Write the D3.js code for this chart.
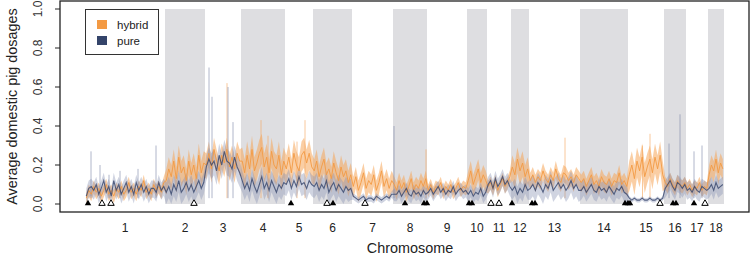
<!DOCTYPE html>
<html>
<head>
<meta charset="utf-8">
<script src="https://cdn.jsdelivr.net/npm/d3@7"></script>
<style>
  body { margin: 0; background: #fff; }
  svg { display: block; font-family: "Liberation Sans", Arial, sans-serif; }
</style>
</head>
<body>
<div id="chart"></div>
<script>
// chromosome names and lengths (Mb)
const chromosomes = ["1","2","3","4","5","6","7","8","9","10","11","12","13","14","15","16","17","18"];
const chromLength = [320,160,144,176,112,156,164,136,160,80,96,72,204,192,144,88,88,64];

// average domestic pig dosage per window, one list per chromosome
const hybridDosage = [
  [0.03,0.07,0.05,0.09,0.06,0.08,0.04,0.07,0.10,0.05,0.07,0.04,0.08,0.06,0.09,0.05,0.07,0.11,0.06,0.08,0.05,0.09,0.07,0.12,0.06,0.08,0.05,0.10,0.07,0.09,0.06,0.11],
  [0.12,0.18,0.14,0.22,0.13,0.24,0.16,0.19,0.12,0.22,0.15,0.20,0.13,0.25,0.16,0.21],
  [0.20,0.26,0.18,0.28,0.22,0.17,0.25,0.21,0.28,0.19,0.24,0.18,0.26,0.22],
  [0.22,0.16,0.25,0.18,0.28,0.17,0.21,0.26,0.29,0.19,0.24,0.16,0.27,0.20,0.18,0.25,0.15,0.22],
  [0.18,0.24,0.16,0.26,0.20,0.17,0.25,0.27,0.21,0.26,0.19],
  [0.17,0.22,0.14,0.19,0.23,0.15,0.18,0.13,0.21,0.16,0.12,0.19,0.14,0.17,0.11,0.15],
  [0.09,0.14,0.07,0.11,0.16,0.08,0.12,0.10,0.15,0.07,0.11,0.17,0.09,0.13,0.08,0.12],
  [0.10,0.07,0.12,0.08,0.11,0.06,0.09,0.13,0.07,0.10,0.08,0.12,0.09,0.13],
  [0.07,0.10,0.06,0.09,0.08,0.11,0.06,0.09,0.07,0.10,0.06,0.08,0.11,0.07,0.09,0.08],
  [0.12,0.17,0.10,0.14,0.18,0.11,0.15,0.12],
  [0.09,0.11,0.08,0.12,0.07,0.10,0.13,0.09,0.11,0.14],
  [0.19,0.15,0.23,0.17,0.21,0.14,0.18],
  [0.12,0.15,0.11,0.14,0.12,0.17,0.13,0.11,0.15,0.12,0.18,0.13,0.11,0.16,0.15,0.12,0.14,0.11,0.15,0.13],
  [0.11,0.13,0.09,0.12,0.15,0.10,0.12,0.09,0.14,0.11,0.10,0.13,0.09,0.12,0.11,0.16,0.10,0.12,0.09],
  [0.15,0.20,0.13,0.22,0.17,0.24,0.14,0.19,0.23,0.16,0.24,0.18,0.25,0.15],
  [0.11,0.09,0.13,0.10,0.08,0.12,0.10,0.09,0.11],
  [0.08,0.10,0.07,0.09,0.08,0.11,0.07,0.09,0.08],
  [0.15,0.20,0.17,0.23,0.16,0.21,0.18]
];
const pureDosage = [
  [0.04,0.08,0.09,0.07,0.10,0.05,0.08,0.12,0.06,0.09,0.04,0.12,0.07,0.10,0.05,0.08,0.11,0.06,0.09,0.05,0.11,0.07,0.10,0.06,0.09,0.05,0.08,0.08,0.06,0.11,0.07,0.09],
  [0.06,0.09,0.05,0.10,0.07,0.12,0.06,0.08,0.11,0.07,0.10,0.06,0.09,0.12,0.08,0.11],
  [0.19,0.23,0.20,0.22,0.17,0.25,0.20,0.27,0.22,0.21,0.18,0.24,0.19,0.16],
  [0.12,0.08,0.11,0.07,0.13,0.09,0.06,0.10,0.14,0.08,0.11,0.07,0.12,0.09,0.06,0.10,0.08,0.11],
  [0.10,0.13,0.08,0.12,0.09,0.14,0.10,0.11,0.08,0.12,0.10],
  [0.09,0.11,0.07,0.10,0.08,0.12,0.06,0.09,0.11,0.07,0.10,0.08,0.06,0.09,0.07,0.08],
  [0.04,0.03,0.02,0.03,0.04,0.02,0.03,0.03,0.02,0.04,0.03,0.02,0.03,0.04,0.03,0.05],
  [0.05,0.05,0.07,0.04,0.06,0.08,0.05,0.04,0.07,0.05,0.06,0.04,0.07,0.05],
  [0.06,0.08,0.05,0.07,0.09,0.06,0.08,0.05,0.07,0.06,0.09,0.05,0.07,0.08,0.06,0.07],
  [0.05,0.07,0.04,0.06,0.05,0.08,0.04,0.06],
  [0.10,0.12,0.08,0.13,0.09,0.11,0.14,0.10,0.12,0.09],
  [0.07,0.09,0.05,0.08,0.06,0.10,0.07],
  [0.08,0.10,0.07,0.11,0.09,0.06,0.10,0.08,0.12,0.07,0.09,0.11,0.08,0.10,0.07,0.09,0.12,0.08,0.10,0.07],
  [0.07,0.09,0.06,0.08,0.10,0.07,0.06,0.09,0.07,0.08,0.06,0.09,0.07,0.05,0.08,0.07,0.09,0.06,0.05],
  [0.03,0.02,0.03,0.02,0.02,0.03,0.02,0.02,0.03,0.02,0.02,0.03,0.02,0.03],
  [0.08,0.10,0.12,0.09,0.07,0.11,0.10,0.08,0.10],
  [0.07,0.08,0.06,0.09,0.07,0.06,0.09,0.08,0.07],
  [0.08,0.10,0.07,0.11,0.08,0.09,0.10]
];

// spread of the individual windows around the mean, per chromosome
const hybridSpread = [0.03,0.06,0.06,0.07,0.07,0.06,0.05,0.04,0.03,0.05,0.03,0.06,0.04,0.04,0.07,0.03,0.03,0.05];
const pureSpread = [0.04,0.05,0.06,0.05,0.05,0.05,0.015,0.03,0.03,0.03,0.04,0.04,0.05,0.04,0.01,0.04,0.04,0.04];

// isolated high windows: [position Mb, dosage]
const hybridSpikes = [[568,0.62],[704,0.43],[732,0.35],[880,0.43],[848,0.32],[1364,0.28],[1920,0.34],[2260,0.36],[2230,0.30]];
const pureSpikes = [[24,0.27],[60,0.20],[96,0.15],[140,0.17],[212,0.18],[284,0.30],[496,0.70],[508,0.55],[572,0.60],[592,0.42],[1236,0.40],[2336,0.31],[2380,0.46],[2436,0.27],[2468,0.30]];

// marker positions along the genome (Mb from start)
const filledMarks = [12,824,992,1280,1356,1368,1536,1548,1708,1788,1800,2160,2172,2180,2352,2364,2436];
const openMarks = [68,104,436,968,1120,1624,1656,2300,2480];

const yTicks = [0, 0.2, 0.4, 0.6, 0.8, 1.0];
const hybridColor = "#f39a44", pureColor = "#34446a";

const width = 750, height = 256;
const box = { left: 60, right: 749, top: 1, bottom: 212 };

// cumulative start of each chromosome
var starts = [];
var acc = 0;
chromLength.forEach(function (l) { starts.push(acc); acc += l; });
var total = acc;

var x = d3.scaleLinear().domain([0, total]).range([85, 724]);
var y = d3.scaleLinear().domain([0, 1]).range([204, 9]);

function toPoints(series, spread) {
  var pts = [];
  series.forEach(function (vals, c) {
    var step = chromLength[c] / vals.length;
    vals.forEach(function (v, i) {
      pts.push({ pos: starts[c] + (i + 0.5) * step, v: v, s: spread[c] });
    });
  });
  return pts;
}

var hybridPts = toPoints(hybridDosage, hybridSpread);
var purePts = toPoints(pureDosage, pureSpread);

var svg = d3.select("#chart").append("svg")
  .attr("width", width)
  .attr("height", height);

// grey bands for even chromosomes
svg.append("g").selectAll("rect")
  .data(chromosomes.map(function (d, i) { return i; }).filter(function (i) { return i % 2 == 1; }))
  .join("rect")
  .attr("x", function (i) { return x(starts[i]); })
  .attr("width", function (i) { return x(starts[i] + chromLength[i]) - x(starts[i]); })
  .attr("y", y(1))
  .attr("height", y(0) - y(1))
  .attr("fill", "#dedee1");

var band = d3.area()
  .x(function (d) { return x(d.pos); })
  .y0(function (d) { return y(Math.max(0, d.v - d.s * 1.2)); })
  .y1(function (d) { return y(d.v + d.s); });

var line = d3.line()
  .x(function (d) { return x(d.pos); })
  .y(function (d) { return y(d.v); });

function drawSpikes(spikes, color, opacity) {
  svg.append("g").selectAll("line")
    .data(spikes)
    .join("line")
    .attr("x1", function (d) { return x(d[0]); })
    .attr("x2", function (d) { return x(d[0]); })
    .attr("y1", y(0.03))
    .attr("y2", function (d) { return y(d[1]); })
    .attr("stroke", color)
    .attr("stroke-opacity", opacity)
    .attr("stroke-width", 1);
}

// faint spread first, then the mean lines
svg.append("path")
  .attr("d", band(hybridPts))
  .attr("fill", "#f5a65a")
  .attr("fill-opacity", 0.55);
drawSpikes(hybridSpikes, "#f5a55a", 0.6);

svg.append("path")
  .attr("d", band(purePts))
  .attr("fill", "#8a93b4")
  .attr("fill-opacity", 0.4);
drawSpikes(pureSpikes, "#7c86a8", 0.6);

svg.append("path")
  .attr("d", line(hybridPts))
  .attr("fill", "none")
  .attr("stroke", hybridColor)
  .attr("stroke-opacity", 0.9)
  .attr("stroke-width", 1);

svg.append("path")
  .attr("d", line(purePts))
  .attr("fill", "none")
  .attr("stroke", pureColor)
  .attr("stroke-opacity", 0.8)
  .attr("stroke-width", 1.1);

// triangles on the baseline
var tri = d3.symbol().type(d3.symbolTriangle).size(18);
svg.append("g").selectAll("path")
  .data(openMarks)
  .join("path")
  .attr("d", tri)
  .attr("transform", function (d) { return "translate(" + x(d) + "," + (y(0) - 0.5) + ")"; })
  .attr("fill", "#fff")
  .attr("stroke", "#000")
  .attr("stroke-width", 1);
svg.append("g").selectAll("path")
  .data(filledMarks)
  .join("path")
  .attr("d", tri)
  .attr("transform", function (d) { return "translate(" + x(d) + "," + (y(0) - 0.5) + ")"; })
  .attr("fill", "#000");

// frame
svg.append("rect")
  .attr("x", box.left)
  .attr("y", box.top)
  .attr("width", box.right - box.left)
  .attr("height", box.bottom - box.top)
  .attr("fill", "none")
  .attr("stroke", "#222")
  .attr("stroke-width", 1.3);

// y axis
var yAxis = svg.append("g");
yAxis.selectAll("line")
  .data(yTicks)
  .join("line")
  .attr("x1", box.left - 5)
  .attr("x2", box.left)
  .attr("y1", function (d) { return y(d); })
  .attr("y2", function (d) { return y(d); })
  .attr("stroke", "#222");
yAxis.selectAll("text")
  .data(yTicks)
  .join("text")
  .attr("transform", function (d) { return "translate(42," + y(d) + ") rotate(-90)"; })
  .attr("text-anchor", "middle")
  .attr("font-size", 12)
  .attr("fill", "#333")
  .text(function (d) { return d.toFixed(1); });

svg.append("text")
  .attr("transform", "translate(17," + ((box.top + box.bottom) / 2) + ") rotate(-90)")
  .attr("text-anchor", "middle")
  .attr("font-size", 14.4)
  .attr("fill", "#222")
  .text("Average domestic pig dosages");

// chromosome labels
svg.append("g").selectAll("text")
  .data(chromosomes)
  .join("text")
  .attr("x", function (d, i) { return x(starts[i] + chromLength[i] / 2); })
  .attr("y", 232)
  .attr("text-anchor", "middle")
  .attr("font-size", 12)
  .attr("fill", "#222")
  .text(function (d) { return d; });

svg.append("text")
  .attr("x", 410)
  .attr("y", 253)
  .attr("text-anchor", "middle")
  .attr("font-size", 14.4)
  .attr("fill", "#222")
  .text("Chromosome");

// legend
var legend = svg.append("g");
legend.append("rect")
  .attr("x", 85.5).attr("y", 9.5)
  .attr("width", 73).attr("height", 45)
  .attr("fill", "#fff")
  .attr("stroke", "#333");
[["hybrid", hybridColor], ["pure", pureColor]].forEach(function (d, i) {
  legend.append("rect")
    .attr("x", 97).attr("y", 20 + i * 16)
    .attr("width", 10).attr("height", 9)
    .attr("fill", d[1]);
  legend.append("text")
    .attr("x", 117).attr("y", 28.5 + i * 16)
    .attr("font-size", 11.5)
    .attr("fill", "#222")
    .text(d[0]);
});
</script>
</body>
</html>
